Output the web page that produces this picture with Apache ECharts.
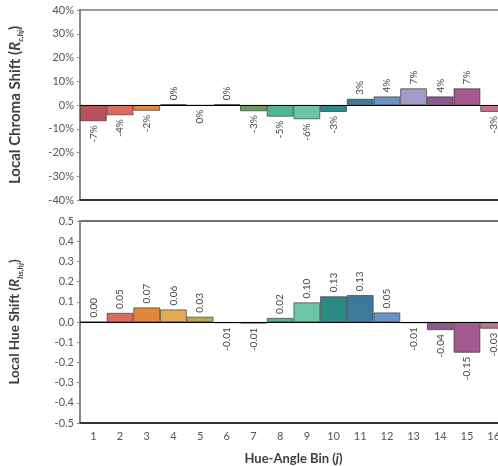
<!DOCTYPE html>
<html>
<head>
<meta charset="utf-8">
<script src="https://cdn.jsdelivr.net/npm/echarts@6/dist/echarts.min.js"></script>
<style>html,body{margin:0;padding:0;background:#fff}#c{width:498px;height:466px}</style>
</head>
<body>
<div id="c"></div>
<script>
var bins = ['1','2','3','4','5','6','7','8','9','10','11','12','13','14','15','16'];
var chromaShift = [-6.8, -4.3, -2.4, 0.3, -0.3, 0.3, -2.6, -4.9, -6.0, -2.9, 2.6, 3.6, 7.0, 3.6, 7.0, -2.9];
var hueShift = [0.0, 0.045, 0.072, 0.062, 0.026, -0.006, -0.008, 0.02, 0.097, 0.127, 0.133, 0.047, -0.006, -0.04, -0.152, -0.033];
var binColors = ['#b9505c','#dc6a5e','#e2873c','#e2aa55','#c2aa42','#8c8c4c','#6a9a62','#4fb68e','#6cc6a6','#2a8a84','#3c7a9c','#6a92c2','#a29ac8','#8a5a8c','#a25a90','#c07090'];
var chromaTicks = [-40, 40, 10];
var hueTicks = [-0.5, 0.5, 0.1];

var font = 'Lato';
var txt = '#555';

function barData(vals, fmt) {
  return vals.map(function (v, i) {
    var neg = v < 0;
    return {
      value: v,
      itemStyle: { color: binColors[i] },
      label: {
        show: true,
        position: neg ? 'bottom' : 'top',
        rotate: 90,
        align: neg ? 'right' : 'left',
        verticalAlign: 'middle',
        distance: 4,
        formatter: fmt(v),
        color: '#444',
        fontFamily: font,
        fontSize: 10
      }
    };
  });
}

function titleRich(size) {
  return {
    b: { fontFamily: font, fontWeight: 'bold', fontSize: size, color: '#404040', lineHeight: 18 },
    i: { fontFamily: font, fontWeight: 'bold', fontStyle: 'italic', fontSize: size, color: '#404040', lineHeight: 18 },
    s: { fontFamily: font, fontWeight: 'bold', fontStyle: 'italic', fontSize: 8, color: '#404040', verticalAlign: 'bottom', lineHeight: 18 }
  };
}

var chart = echarts.init(document.getElementById('c'));
chart.setOption({
  animation: false,
  grid: [
    { left: 80, top: 10, width: 427, height: 190, show: true, borderColor: '#999', borderWidth: 2, outerBoundsMode: 'none', containLabel: false },
    { left: 80, top: 221, width: 427, height: 202, show: true, borderColor: '#444', borderWidth: 1.5, outerBoundsMode: 'none', containLabel: false }
  ],
  xAxis: [
    { type: 'category', data: bins, gridIndex: 0,
      axisLine: { onZero: false, lineStyle: { color: '#333', width: 2 } },
      axisTick: { show: false }, axisLabel: { show: false } },
    { type: 'category', data: bins, gridIndex: 1,
      axisLine: { onZero: false, lineStyle: { color: '#333', width: 2 } },
      axisTick: { show: false },
      axisLabel: { color: txt, fontFamily: font, fontSize: 11, margin: 8 },
      name: '{b|Hue-Angle Bin (}{bi|j}{b|)}', nameLocation: 'middle', nameGap: 29,
      nameTextStyle: { rich: {
        b: { fontFamily: font, fontWeight: 'bold', fontSize: 13, color: '#404040' },
        bi: { fontFamily: font, fontWeight: 'bold', fontStyle: 'italic', fontSize: 13, color: '#404040' }
      } } }
  ],
  yAxis: [
    { type: 'value', gridIndex: 0, min: chromaTicks[0], max: chromaTicks[1], interval: chromaTicks[2],
      splitLine: { show: false },
      axisLine: { show: true, lineStyle: { color: '#888', width: 2 } },
      axisTick: { show: true, length: 3, lineStyle: { color: '#888' } },
      axisLabel: { formatter: '{value}%', color: txt, fontFamily: font, fontSize: 11, margin: 6 },
      name: '{b|Local Chroma Shift (}{i|R}{s|c,hj}{b|)}', nameLocation: 'middle', nameGap: 56,
      nameTextStyle: { rich: titleRich(15) } },
    { type: 'value', gridIndex: 1, min: hueTicks[0], max: hueTicks[1], interval: hueTicks[2],
      splitLine: { show: false },
      axisLine: { show: true, lineStyle: { color: '#888', width: 2 } },
      axisTick: { show: true, length: 3, lineStyle: { color: '#888' } },
      axisLabel: { formatter: function (v) { return v.toFixed(1); }, color: txt, fontFamily: font, fontSize: 11, margin: 6 },
      name: '{b|Local Hue Shift (}{i|R}{s|hs,hj}{b|)}', nameLocation: 'middle', nameGap: 56,
      nameTextStyle: { rich: titleRich(13.5) } }
  ],
  series: [
    { type: 'bar', xAxisIndex: 0, yAxisIndex: 0, barCategoryGap: '0%',
      itemStyle: { borderColor: 'rgba(40,40,40,0.75)', borderWidth: 0.8 },
      data: barData(chromaShift, function (v) { var r = Math.round(v); return (r === 0 ? 0 : r) + '%'; }),
      markLine: { silent: true, symbol: 'none', label: { show: false },
        lineStyle: { color: '#000', width: 1.2, type: 'solid' }, data: [{ yAxis: 0 }] } },
    { type: 'bar', xAxisIndex: 1, yAxisIndex: 1, barCategoryGap: '0%',
      itemStyle: { borderColor: 'rgba(40,40,40,0.75)', borderWidth: 0.8 },
      data: barData(hueShift, function (v) { var s = (Math.round(v * 100) / 100).toFixed(2); return s === '-0.00' ? '0.00' : s; }),
      markLine: { silent: true, symbol: 'none', label: { show: false },
        lineStyle: { color: '#000', width: 1.2, type: 'solid' }, data: [{ yAxis: 0 }] } }
  ]
});
</script>
</body>
</html>
